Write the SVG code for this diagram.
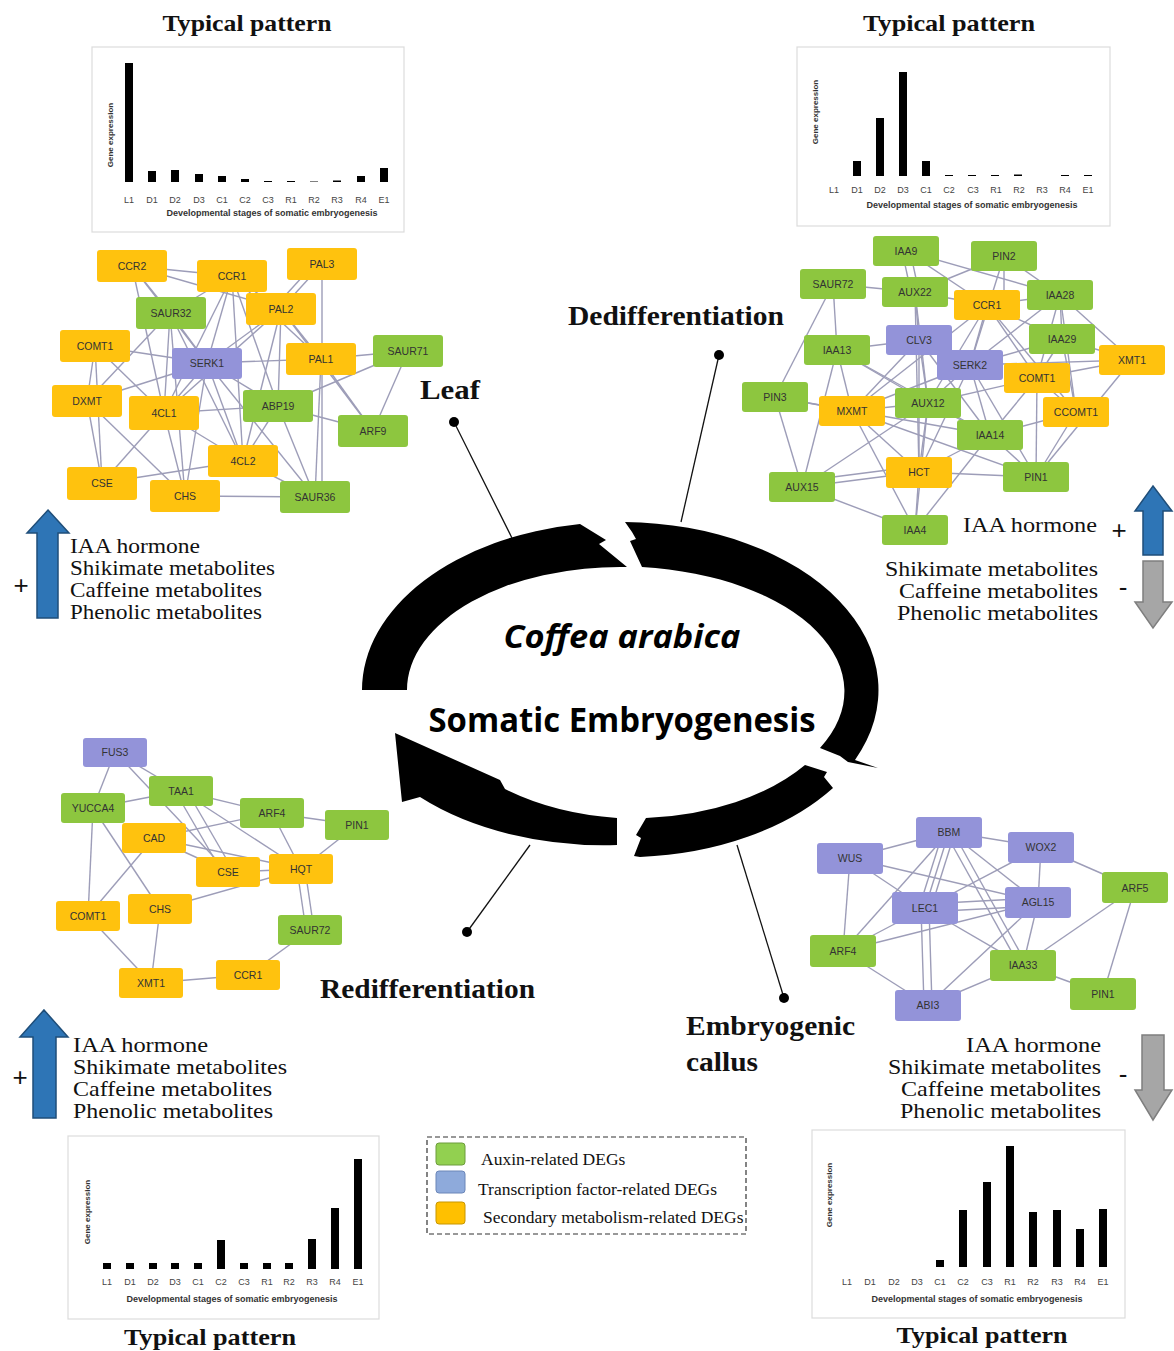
<svg xmlns="http://www.w3.org/2000/svg" width="1174" height="1351" viewBox="0 0 1174 1351">
<style>
.bg{fill:#fff}
.box{fill:#fff;stroke:#dcdcdc;stroke-width:1.2}
.bar{fill:#000}
.tick{font-family:"Liberation Sans",Arial,sans-serif;font-size:9px;fill:#444;text-anchor:middle}
.axt{font-family:"Liberation Sans",Arial,sans-serif;font-size:9px;font-weight:bold;fill:#333;text-anchor:middle}
.gen{font-family:"Liberation Sans",Arial,sans-serif;font-size:8px;font-weight:bold;fill:#333;text-anchor:middle}
.title{font-family:"Liberation Serif","Times New Roman",serif;font-size:24px;font-weight:bold;fill:#111;text-anchor:middle}
.stage{font-family:"Liberation Serif","Times New Roman",serif;font-size:27px;font-weight:bold;fill:#111}
.met{font-family:"Liberation Serif","Times New Roman",serif;font-size:21.5px;fill:#111}
.metr{font-family:"Liberation Serif","Times New Roman",serif;font-size:21.5px;fill:#111;text-anchor:end}
.sign{font-family:"Liberation Sans",Arial,sans-serif;font-size:26px;fill:#111;text-anchor:middle}
.leg{font-family:"Liberation Serif","Times New Roman",serif;font-size:17.5px;fill:#111}
.g rect{fill:#8dc63f}
.y rect{fill:#ffc20e}
.p rect{fill:#9393d9}
.n text{font-family:"Liberation Sans",Arial,sans-serif;font-size:10.5px;fill:#333;text-anchor:middle;dominant-baseline:central}
.edges line{stroke:#9d9db8;stroke-width:1.4}
.ptr{stroke:#111;stroke-width:1.3}
.up{fill:#2e75b6;stroke:#1f4e79;stroke-width:1.5}
.down{fill:#a6a6a6;stroke:#7f7f7f;stroke-width:1.5}
</style>
<rect class="bg" x="0" y="0" width="1174" height="1351"/>

<!-- Cycle -->
<g id="cycle" fill="#000">
<path d="M362,690 A258,168 0 0 1 580,524 L606,540 L599,544 L627,567 A213,123 0 0 0 407,690 Z"/>
<path d="M625,522 L632,532 L636,539 L630,541 L642,567 A225,125 0 0 1 820,748 L840,756 L848,762 L878,768 L855,760 A258,168 0 0 0 625,522 Z"/>
<path d="M805,765 L827,772 L824,777 L833,788 A258,168 0 0 1 640,857 L634,856 L641,838 L636,835 L646,818 A213,128 0 0 0 805,765 Z"/>
<path d="M617,818 L617,845 A258,162 0 0 1 420,797 L402,802 L395,733 L500,780 L505,789 A213,125 0 0 0 617,818 Z"/>
</g>
<text x="622" y="648" font-family="Open Sans,Liberation Sans,sans-serif" font-size="33" font-weight="bold" font-style="italic" text-anchor="middle" textLength="237" lengthAdjust="spacingAndGlyphs">Coffea arabica</text>
<text x="622" y="732" font-family="Open Sans,Liberation Sans,sans-serif" font-size="34" font-weight="bold" text-anchor="middle" textLength="387" lengthAdjust="spacingAndGlyphs">Somatic Embryogenesis</text>

<!-- Stage labels and pointers -->
<g id="pointers">
<line class="ptr" x1="454" y1="422" x2="512" y2="538"/><circle cx="454" cy="422" r="5"/>
<line class="ptr" x1="719" y1="355" x2="681" y2="522"/><circle cx="719" cy="355" r="5"/>
<line class="ptr" x1="467" y1="932" x2="530" y2="845"/><circle cx="467" cy="932" r="5"/>
<line class="ptr" x1="784" y1="998" x2="737" y2="845"/><circle cx="784" cy="998" r="5"/>
</g>
<text class="stage" x="420" y="399" textLength="60" lengthAdjust="spacingAndGlyphs">Leaf</text>
<text class="stage" x="568" y="325" textLength="216" lengthAdjust="spacingAndGlyphs">Dedifferentiation</text>
<text class="stage" x="320" y="998" textLength="215" lengthAdjust="spacingAndGlyphs">Redifferentiation</text>
<text class="stage" x="686" y="1035" textLength="169" lengthAdjust="spacingAndGlyphs">Embryogenic</text>
<text class="stage" x="686" y="1071" textLength="72" lengthAdjust="spacingAndGlyphs">callus</text>

<!-- Titles -->
<text class="title" x="247" y="31" textLength="169" lengthAdjust="spacingAndGlyphs">Typical pattern</text>
<text class="title" x="949" y="31" textLength="172" lengthAdjust="spacingAndGlyphs">Typical pattern</text>
<text class="title" x="210" y="1345" textLength="172" lengthAdjust="spacingAndGlyphs">Typical pattern</text>
<text class="title" x="982" y="1343" textLength="171" lengthAdjust="spacingAndGlyphs">Typical pattern</text>

<!-- Chart top-left -->
<g id="chart-tl">
<rect class="box" x="92" y="47" width="312" height="185"/>
<rect class="bar" x="125" y="63" width="8" height="119"/>
<rect class="bar" x="148" y="171" width="8" height="11"/>
<rect class="bar" x="171" y="170" width="8" height="12"/>
<rect class="bar" x="195" y="174" width="8" height="8"/>
<rect class="bar" x="218" y="176" width="8" height="6"/>
<rect class="bar" x="241" y="179" width="8" height="3"/>
<rect class="bar" x="264" y="181" width="8" height="1"/>
<rect class="bar" x="287" y="181" width="8" height="1"/>
<rect class="bar" x="310" y="181.5" width="8" height="0.5"/>
<rect class="bar" x="333" y="180.5" width="8" height="1.5"/>
<rect class="bar" x="357" y="176" width="8" height="6"/>
<rect class="bar" x="380" y="168" width="8" height="14"/>
<text class="tick" y="203"><tspan x="129">L1</tspan><tspan x="152">D1</tspan><tspan x="175">D2</tspan><tspan x="199">D3</tspan><tspan x="222">C1</tspan><tspan x="245">C2</tspan><tspan x="268">C3</tspan><tspan x="291">R1</tspan><tspan x="314">R2</tspan><tspan x="337">R3</tspan><tspan x="361">R4</tspan><tspan x="384">E1</tspan></text>
<text class="axt" x="272" y="216">Developmental stages of somatic embryogenesis</text>
<text class="gen" transform="translate(113,135) rotate(-90)">Gene expression</text>
</g>

<!-- Chart top-right -->
<g id="chart-tr">
<rect class="box" x="797" y="47" width="313" height="179"/>
<rect class="bar" x="853" y="161" width="8" height="15"/>
<rect class="bar" x="876" y="118" width="8" height="58"/>
<rect class="bar" x="899" y="72" width="8" height="104"/>
<rect class="bar" x="922" y="161" width="8" height="15"/>
<rect class="bar" x="945" y="175" width="8" height="1"/>
<rect class="bar" x="968" y="175" width="8" height="1"/>
<rect class="bar" x="991" y="175" width="8" height="1"/>
<rect class="bar" x="1014" y="174.5" width="8" height="1.5"/>
<rect class="bar" x="1061" y="175" width="8" height="1"/>
<rect class="bar" x="1084" y="175" width="8" height="1"/>
<text class="tick" y="193"><tspan x="834">L1</tspan><tspan x="857">D1</tspan><tspan x="880">D2</tspan><tspan x="903">D3</tspan><tspan x="926">C1</tspan><tspan x="949">C2</tspan><tspan x="973">C3</tspan><tspan x="996">R1</tspan><tspan x="1019">R2</tspan><tspan x="1042">R3</tspan><tspan x="1065">R4</tspan><tspan x="1088">E1</tspan></text>
<text class="axt" x="972" y="208">Developmental stages of somatic embryogenesis</text>
<text class="gen" transform="translate(818,112) rotate(-90)">Gene expression</text>
</g>

<!-- Chart bottom-left -->
<g id="chart-bl">
<rect class="box" x="68" y="1136" width="311" height="183"/>
<rect class="bar" x="103" y="1263" width="8" height="6"/>
<rect class="bar" x="126" y="1263" width="8" height="6"/>
<rect class="bar" x="149" y="1263" width="8" height="6"/>
<rect class="bar" x="171" y="1263" width="8" height="6"/>
<rect class="bar" x="194" y="1263" width="8" height="6"/>
<rect class="bar" x="217" y="1240" width="8" height="29"/>
<rect class="bar" x="240" y="1263" width="8" height="6"/>
<rect class="bar" x="263" y="1263" width="8" height="6"/>
<rect class="bar" x="285" y="1263" width="8" height="6"/>
<rect class="bar" x="308" y="1239" width="8" height="30"/>
<rect class="bar" x="331" y="1208" width="8" height="61"/>
<rect class="bar" x="354" y="1159" width="8" height="110"/>
<text class="tick" y="1285"><tspan x="107">L1</tspan><tspan x="130">D1</tspan><tspan x="153">D2</tspan><tspan x="175">D3</tspan><tspan x="198">C1</tspan><tspan x="221">C2</tspan><tspan x="244">C3</tspan><tspan x="267">R1</tspan><tspan x="289">R2</tspan><tspan x="312">R3</tspan><tspan x="335">R4</tspan><tspan x="358">E1</tspan></text>
<text class="axt" x="232" y="1302">Developmental stages of somatic embryogenesis</text>
<text class="gen" transform="translate(90,1212) rotate(-90)">Gene expression</text>
</g>

<!-- Chart bottom-right -->
<g id="chart-br">
<rect class="box" x="812" y="1130" width="313" height="188"/>
<rect class="bar" x="936" y="1260" width="8" height="7"/>
<rect class="bar" x="959" y="1210" width="8" height="57"/>
<rect class="bar" x="983" y="1182" width="8" height="85"/>
<rect class="bar" x="1006" y="1146" width="8" height="121"/>
<rect class="bar" x="1029" y="1212" width="8" height="55"/>
<rect class="bar" x="1053" y="1210" width="8" height="57"/>
<rect class="bar" x="1076" y="1229" width="8" height="38"/>
<rect class="bar" x="1099" y="1209" width="8" height="58"/>
<text class="tick" y="1285"><tspan x="847">L1</tspan><tspan x="870">D1</tspan><tspan x="894">D2</tspan><tspan x="917">D3</tspan><tspan x="940">C1</tspan><tspan x="963">C2</tspan><tspan x="987">C3</tspan><tspan x="1010">R1</tspan><tspan x="1033">R2</tspan><tspan x="1057">R3</tspan><tspan x="1080">R4</tspan><tspan x="1103">E1</tspan></text>
<text class="axt" x="977" y="1302">Developmental stages of somatic embryogenesis</text>
<text class="gen" transform="translate(832,1195) rotate(-90)">Gene expression</text>
</g>

<!-- Connectors -->
<g id="connectors" class="edges">
<!-- top-left network -->
<line x1="132" y1="266" x2="232" y2="276"/><line x1="132" y1="266" x2="281" y2="309"/><line x1="132" y1="266" x2="170" y2="313"/><line x1="132" y1="266" x2="207" y2="363"/><line x1="132" y1="266" x2="164" y2="413"/>
<line x1="232" y1="276" x2="170" y2="313"/><line x1="232" y1="276" x2="281" y2="309"/><line x1="232" y1="276" x2="164" y2="413"/><line x1="232" y1="276" x2="243" y2="461"/><line x1="232" y1="276" x2="278" y2="406"/><line x1="232" y1="276" x2="207" y2="363"/><line x1="232" y1="276" x2="321" y2="359"/>
<line x1="322" y1="264" x2="281" y2="309"/><line x1="314" y1="264" x2="273" y2="309"/><line x1="322" y1="264" x2="322" y2="497"/>
<line x1="281" y1="309" x2="207" y2="363"/><line x1="281" y1="309" x2="243" y2="461"/><line x1="281" y1="309" x2="321" y2="359"/><line x1="281" y1="309" x2="373" y2="431"/><line x1="281" y1="309" x2="164" y2="413"/><line x1="281" y1="309" x2="278" y2="406"/>
<line x1="170" y1="313" x2="87" y2="401"/><line x1="170" y1="313" x2="164" y2="413"/><line x1="170" y1="313" x2="207" y2="363"/><line x1="170" y1="313" x2="243" y2="461"/><line x1="170" y1="313" x2="185" y2="496"/>
<line x1="95" y1="346" x2="87" y2="401"/><line x1="95" y1="346" x2="164" y2="413"/><line x1="95" y1="346" x2="102" y2="483"/><line x1="95" y1="346" x2="207" y2="363"/>
<line x1="207" y1="363" x2="321" y2="359"/><line x1="207" y1="363" x2="278" y2="406"/><line x1="207" y1="363" x2="243" y2="461"/><line x1="207" y1="363" x2="87" y2="401"/><line x1="207" y1="363" x2="185" y2="496"/><line x1="207" y1="363" x2="164" y2="413"/><line x1="207" y1="363" x2="315" y2="497"/>
<line x1="321" y1="359" x2="408" y2="351"/><line x1="321" y1="359" x2="373" y2="431"/><line x1="321" y1="359" x2="315" y2="497"/>
<line x1="408" y1="351" x2="373" y2="431"/><line x1="408" y1="351" x2="278" y2="406"/>
<line x1="87" y1="401" x2="102" y2="483"/><line x1="87" y1="401" x2="185" y2="496"/>
<line x1="164" y1="413" x2="278" y2="406"/><line x1="164" y1="413" x2="243" y2="461"/><line x1="164" y1="413" x2="102" y2="483"/><line x1="164" y1="413" x2="185" y2="496"/>
<line x1="278" y1="406" x2="373" y2="431"/><line x1="278" y1="406" x2="243" y2="461"/><line x1="278" y1="406" x2="315" y2="497"/>
<line x1="243" y1="461" x2="102" y2="483"/><line x1="243" y1="461" x2="315" y2="497"/><line x1="185" y1="496" x2="315" y2="497"/>
<!-- top-right network -->
<line x1="902" y1="251" x2="911" y2="292"/><line x1="910" y1="251" x2="919" y2="292"/><line x1="906" y1="251" x2="987" y2="305"/><line x1="906" y1="251" x2="1060" y2="295"/>
<line x1="1004" y1="256" x2="915" y2="292"/><line x1="1004" y1="256" x2="1004" y2="305"/><line x1="1004" y1="256" x2="1060" y2="295"/><line x1="1004" y1="256" x2="970" y2="365"/>
<line x1="833" y1="284" x2="915" y2="292"/><line x1="833" y1="284" x2="837" y2="350"/><line x1="833" y1="284" x2="775" y2="397"/>
<line x1="915" y1="292" x2="919" y2="340"/><line x1="915" y1="292" x2="928" y2="403"/><line x1="915" y1="292" x2="919" y2="472"/><line x1="915" y1="292" x2="987" y2="305"/>
<line x1="987" y1="305" x2="1060" y2="295"/><line x1="987" y1="305" x2="970" y2="365"/><line x1="987" y1="305" x2="1037" y2="378"/><line x1="987" y1="305" x2="1062" y2="339"/><line x1="987" y1="305" x2="852" y2="411"/><line x1="987" y1="305" x2="1076" y2="412"/><line x1="987" y1="305" x2="928" y2="403"/>
<line x1="1060" y1="295" x2="1062" y2="339"/><line x1="1060" y1="295" x2="1132" y2="360"/><line x1="1060" y1="295" x2="970" y2="365"/><line x1="1060" y1="295" x2="1037" y2="378"/><line x1="1060" y1="295" x2="1076" y2="412"/>
<line x1="919" y1="340" x2="837" y2="350"/><line x1="919" y1="340" x2="970" y2="365"/><line x1="919" y1="340" x2="928" y2="403"/><line x1="919" y1="340" x2="852" y2="411"/><line x1="919" y1="340" x2="919" y2="472"/><line x1="919" y1="340" x2="990" y2="435"/>
<line x1="837" y1="350" x2="852" y2="411"/><line x1="837" y1="350" x2="928" y2="403"/><line x1="837" y1="350" x2="990" y2="435"/><line x1="837" y1="350" x2="802" y2="487"/>
<line x1="970" y1="365" x2="1062" y2="339"/><line x1="970" y1="365" x2="1132" y2="360"/><line x1="970" y1="365" x2="928" y2="403"/><line x1="970" y1="365" x2="919" y2="472"/><line x1="970" y1="365" x2="1036" y2="477"/><line x1="970" y1="365" x2="852" y2="411"/><line x1="970" y1="365" x2="990" y2="435"/>
<line x1="1062" y1="339" x2="1132" y2="360"/><line x1="1062" y1="339" x2="1037" y2="378"/><line x1="1062" y1="339" x2="1076" y2="412"/>
<line x1="1132" y1="360" x2="1037" y2="378"/><line x1="1132" y1="360" x2="1036" y2="477"/>
<line x1="1037" y1="378" x2="1076" y2="412"/><line x1="1037" y1="378" x2="1036" y2="477"/><line x1="1037" y1="378" x2="928" y2="403"/><line x1="1037" y1="378" x2="990" y2="435"/>
<line x1="775" y1="397" x2="852" y2="411"/><line x1="775" y1="397" x2="802" y2="487"/><line x1="775" y1="397" x2="990" y2="435"/>
<line x1="852" y1="411" x2="928" y2="403"/><line x1="852" y1="411" x2="919" y2="472"/><line x1="852" y1="411" x2="915" y2="530"/><line x1="852" y1="411" x2="1036" y2="477"/>
<line x1="928" y1="403" x2="919" y2="472"/><line x1="928" y1="403" x2="990" y2="435"/><line x1="928" y1="403" x2="915" y2="530"/><line x1="928" y1="403" x2="802" y2="487"/>
<line x1="1076" y1="412" x2="990" y2="435"/><line x1="1076" y1="412" x2="1036" y2="477"/>
<line x1="990" y1="435" x2="919" y2="472"/><line x1="990" y1="435" x2="1036" y2="477"/><line x1="990" y1="435" x2="915" y2="530"/>
<line x1="919" y1="472" x2="802" y2="487"/><line x1="919" y1="472" x2="915" y2="530"/><line x1="919" y1="472" x2="1036" y2="477"/>
<line x1="802" y1="487" x2="915" y2="530"/><line x1="802" y1="481" x2="919" y2="466"/>
<!-- bottom-left network -->
<line x1="115" y1="752" x2="93" y2="808"/><line x1="115" y1="752" x2="181" y2="791"/><line x1="115" y1="752" x2="228" y2="872"/>
<line x1="93" y1="808" x2="181" y2="791"/><line x1="93" y1="808" x2="88" y2="916"/><line x1="93" y1="808" x2="160" y2="909"/>
<line x1="181" y1="791" x2="272" y2="813"/><line x1="175" y1="791" x2="222" y2="872"/><line x1="187" y1="791" x2="234" y2="872"/><line x1="181" y1="791" x2="301" y2="869"/>
<line x1="272" y1="813" x2="154" y2="838"/><line x1="272" y1="813" x2="357" y2="825"/><line x1="272" y1="813" x2="301" y2="869"/>
<line x1="357" y1="825" x2="301" y2="869"/>
<line x1="154" y1="838" x2="228" y2="872"/><line x1="154" y1="838" x2="301" y2="869"/><line x1="154" y1="838" x2="88" y2="916"/>
<line x1="228" y1="872" x2="301" y2="869"/><line x1="301" y1="869" x2="160" y2="909"/><line x1="297" y1="869" x2="306" y2="930"/><line x1="305" y1="869" x2="314" y2="930"/>
<line x1="160" y1="909" x2="151" y2="983"/><line x1="88" y1="916" x2="151" y2="983"/><line x1="151" y1="983" x2="248" y2="975"/><line x1="248" y1="975" x2="310" y2="930"/>
<!-- bottom-right network -->
<line x1="949" y1="832" x2="850" y2="858"/><line x1="949" y1="832" x2="1041" y2="847"/><line x1="943" y1="832" x2="919" y2="908"/><line x1="949" y1="832" x2="925" y2="908"/><line x1="955" y1="832" x2="931" y2="908"/><line x1="949" y1="832" x2="843" y2="951"/><line x1="949" y1="832" x2="1038" y2="902"/><line x1="945" y1="832" x2="1019" y2="965"/><line x1="953" y1="832" x2="1027" y2="965"/>
<line x1="850" y1="858" x2="925" y2="908"/><line x1="850" y1="858" x2="1038" y2="902"/><line x1="850" y1="858" x2="843" y2="951"/>
<line x1="1041" y1="847" x2="925" y2="908"/><line x1="1041" y1="847" x2="1038" y2="902"/><line x1="1041" y1="847" x2="1135" y2="888"/>
<line x1="925" y1="904" x2="1038" y2="898"/><line x1="925" y1="912" x2="1038" y2="906"/><line x1="921" y1="908" x2="924" y2="1005"/><line x1="929" y1="908" x2="932" y2="1005"/><line x1="925" y1="908" x2="1023" y2="965"/><line x1="925" y1="908" x2="843" y2="951"/>
<line x1="1038" y1="902" x2="843" y2="951"/><line x1="1038" y1="902" x2="928" y2="1005"/><line x1="1038" y1="902" x2="1023" y2="965"/>
<line x1="843" y1="951" x2="928" y2="1005"/><line x1="1023" y1="965" x2="928" y2="1005"/><line x1="1023" y1="965" x2="1135" y2="888"/><line x1="1023" y1="965" x2="1103" y2="994"/><line x1="1135" y1="888" x2="1103" y2="994"/>
</g>

<!-- Top-left nodes -->
<g id="tl-CCR2" class="n y"><rect x="97" y="250" width="70" height="32" rx="3"/><text x="132" y="266">CCR2</text></g>
<g id="tl-CCR1" class="n y"><rect x="197" y="260" width="70" height="32" rx="3"/><text x="232" y="276">CCR1</text></g>
<g id="tl-PAL3" class="n y"><rect x="287" y="248" width="70" height="32" rx="3"/><text x="322" y="264">PAL3</text></g>
<g id="tl-SAUR32" class="n g"><rect x="136" y="297" width="70" height="32" rx="3"/><text x="171" y="313">SAUR32</text></g>
<g id="tl-PAL2" class="n y"><rect x="246" y="293" width="70" height="32" rx="3"/><text x="281" y="309">PAL2</text></g>
<g id="tl-COMT1" class="n y"><rect x="60" y="330" width="70" height="32" rx="3"/><text x="95" y="346">COMT1</text></g>
<g id="tl-SERK1" class="n p"><rect x="172" y="348" width="70" height="31" rx="3"/><text x="207" y="363">SERK1</text></g>
<g id="tl-PAL1" class="n y"><rect x="286" y="343" width="70" height="32" rx="3"/><text x="321" y="359">PAL1</text></g>
<g id="tl-SAUR71" class="n g"><rect x="373" y="335" width="70" height="32" rx="3"/><text x="408" y="351">SAUR71</text></g>
<g id="tl-DXMT" class="n y"><rect x="52" y="385" width="70" height="32" rx="3"/><text x="87" y="401">DXMT</text></g>
<g id="tl-4CL1" class="n y"><rect x="129" y="396" width="70" height="34" rx="3"/><text x="164" y="413">4CL1</text></g>
<g id="tl-ABP19" class="n g"><rect x="243" y="390" width="70" height="32" rx="3"/><text x="278" y="406">ABP19</text></g>
<g id="tl-ARF9" class="n g"><rect x="338" y="415" width="70" height="32" rx="3"/><text x="373" y="431">ARF9</text></g>
<g id="tl-4CL2" class="n y"><rect x="208" y="445" width="70" height="32" rx="3"/><text x="243" y="461">4CL2</text></g>
<g id="tl-CSE" class="n y"><rect x="67" y="467" width="70" height="33" rx="3"/><text x="102" y="483">CSE</text></g>
<g id="tl-CHS" class="n y"><rect x="150" y="480" width="70" height="32" rx="3"/><text x="185" y="496">CHS</text></g>
<g id="tl-SAUR36" class="n g"><rect x="280" y="481" width="70" height="32" rx="3"/><text x="315" y="497">SAUR36</text></g>

<!-- Top-right nodes -->
<g id="tr-IAA9" class="n g"><rect x="873" y="236" width="66" height="30" rx="3"/><text x="906" y="251">IAA9</text></g>
<g id="tr-PIN2" class="n g"><rect x="971" y="241" width="66" height="30" rx="3"/><text x="1004" y="256">PIN2</text></g>
<g id="tr-SAUR72" class="n g"><rect x="800" y="269" width="66" height="30" rx="3"/><text x="833" y="284">SAUR72</text></g>
<g id="tr-AUX22" class="n g"><rect x="882" y="277" width="66" height="30" rx="3"/><text x="915" y="292">AUX22</text></g>
<g id="tr-CCR1" class="n y"><rect x="954" y="290" width="66" height="30" rx="3"/><text x="987" y="305">CCR1</text></g>
<g id="tr-IAA28" class="n g"><rect x="1027" y="280" width="66" height="30" rx="3"/><text x="1060" y="295">IAA28</text></g>
<g id="tr-CLV3" class="n p"><rect x="886" y="325" width="66" height="30" rx="3"/><text x="919" y="340">CLV3</text></g>
<g id="tr-IAA13" class="n g"><rect x="804" y="335" width="66" height="30" rx="3"/><text x="837" y="350">IAA13</text></g>
<g id="tr-SERK2" class="n p"><rect x="937" y="350" width="66" height="30" rx="3"/><text x="970" y="365">SERK2</text></g>
<g id="tr-IAA29" class="n g"><rect x="1029" y="324" width="66" height="30" rx="3"/><text x="1062" y="339">IAA29</text></g>
<g id="tr-XMT1" class="n y"><rect x="1099" y="345" width="66" height="30" rx="3"/><text x="1132" y="360">XMT1</text></g>
<g id="tr-COMT1" class="n y"><rect x="1004" y="363" width="66" height="30" rx="3"/><text x="1037" y="378">COMT1</text></g>
<g id="tr-PIN3" class="n g"><rect x="742" y="382" width="66" height="30" rx="3"/><text x="775" y="397">PIN3</text></g>
<g id="tr-MXMT" class="n y"><rect x="819" y="396" width="66" height="30" rx="3"/><text x="852" y="411">MXMT</text></g>
<g id="tr-AUX12" class="n g"><rect x="895" y="388" width="66" height="30" rx="3"/><text x="928" y="403">AUX12</text></g>
<g id="tr-CCOMT1" class="n y"><rect x="1043" y="397" width="66" height="30" rx="3"/><text x="1076" y="412">CCOMT1</text></g>
<g id="tr-IAA14" class="n g"><rect x="957" y="420" width="66" height="30" rx="3"/><text x="990" y="435">IAA14</text></g>
<g id="tr-HCT" class="n y"><rect x="886" y="457" width="66" height="31" rx="3"/><text x="919" y="472">HCT</text></g>
<g id="tr-PIN1" class="n g"><rect x="1003" y="462" width="66" height="30" rx="3"/><text x="1036" y="477">PIN1</text></g>
<g id="tr-AUX15" class="n g"><rect x="769" y="472" width="66" height="30" rx="3"/><text x="802" y="487">AUX15</text></g>
<g id="tr-IAA4" class="n g"><rect x="882" y="515" width="66" height="30" rx="3"/><text x="915" y="530">IAA4</text></g>

<!-- Bottom-left nodes -->
<g id="bl-FUS3" class="n p"><rect x="83" y="738" width="64" height="29" rx="3"/><text x="115" y="752">FUS3</text></g>
<g id="bl-TAA1" class="n g"><rect x="149" y="776" width="64" height="30" rx="3"/><text x="181" y="791">TAA1</text></g>
<g id="bl-YUCCA4" class="n g"><rect x="61" y="793" width="64" height="30" rx="3"/><text x="93" y="808">YUCCA4</text></g>
<g id="bl-ARF4" class="n g"><rect x="240" y="798" width="64" height="30" rx="3"/><text x="272" y="813">ARF4</text></g>
<g id="bl-PIN1" class="n g"><rect x="325" y="810" width="64" height="30" rx="3"/><text x="357" y="825">PIN1</text></g>
<g id="bl-CAD" class="n y"><rect x="122" y="823" width="64" height="30" rx="3"/><text x="154" y="838">CAD</text></g>
<g id="bl-CSE" class="n y"><rect x="196" y="857" width="64" height="30" rx="3"/><text x="228" y="872">CSE</text></g>
<g id="bl-HQT" class="n y"><rect x="269" y="854" width="64" height="30" rx="3"/><text x="301" y="869">HQT</text></g>
<g id="bl-COMT1" class="n y"><rect x="56" y="901" width="64" height="30" rx="3"/><text x="88" y="916">COMT1</text></g>
<g id="bl-CHS" class="n y"><rect x="128" y="894" width="64" height="30" rx="3"/><text x="160" y="909">CHS</text></g>
<g id="bl-SAUR72" class="n g"><rect x="278" y="915" width="64" height="30" rx="3"/><text x="310" y="930">SAUR72</text></g>
<g id="bl-XMT1" class="n y"><rect x="119" y="968" width="64" height="30" rx="3"/><text x="151" y="983">XMT1</text></g>
<g id="bl-CCR1" class="n y"><rect x="216" y="960" width="64" height="30" rx="3"/><text x="248" y="975">CCR1</text></g>

<!-- Bottom-right nodes -->
<g id="br-BBM" class="n p"><rect x="916" y="817" width="66" height="31" rx="3"/><text x="949" y="832">BBM</text></g>
<g id="br-WOX2" class="n p"><rect x="1008" y="832" width="66" height="31" rx="3"/><text x="1041" y="847">WOX2</text></g>
<g id="br-WUS" class="n p"><rect x="817" y="843" width="66" height="31" rx="3"/><text x="850" y="858">WUS</text></g>
<g id="br-ARF5" class="n g"><rect x="1102" y="872" width="66" height="31" rx="3"/><text x="1135" y="888">ARF5</text></g>
<g id="br-LEC1" class="n p"><rect x="892" y="892" width="66" height="32" rx="3"/><text x="925" y="908">LEC1</text></g>
<g id="br-AGL15" class="n p"><rect x="1005" y="887" width="66" height="31" rx="3"/><text x="1038" y="902">AGL15</text></g>
<g id="br-ARF4" class="n g"><rect x="810" y="935" width="66" height="32" rx="3"/><text x="843" y="951">ARF4</text></g>
<g id="br-IAA33" class="n g"><rect x="990" y="950" width="66" height="31" rx="3"/><text x="1023" y="965">IAA33</text></g>
<g id="br-PIN1" class="n g"><rect x="1070" y="978" width="66" height="32" rx="3"/><text x="1103" y="994">PIN1</text></g>
<g id="br-ABI3" class="n p"><rect x="895" y="990" width="66" height="31" rx="3"/><text x="928" y="1005">ABI3</text></g>

<!-- Regulation arrows and texts -->
<g id="reg-tl">
<polygon class="up" points="48,510 69,533 58,533 58,618 37,618 37,533 27,533"/>
<text class="sign" x="21" y="594">+</text>
<text class="met" x="70" y="553" textLength="130" lengthAdjust="spacingAndGlyphs">IAA hormone</text>
<text class="met" x="70" y="575" textLength="205" lengthAdjust="spacingAndGlyphs">Shikimate metabolites</text>
<text class="met" x="70" y="597" textLength="192" lengthAdjust="spacingAndGlyphs">Caffeine metabolites</text>
<text class="met" x="70" y="619" textLength="192" lengthAdjust="spacingAndGlyphs">Phenolic metabolites</text>
</g>
<g id="reg-tr">
<polygon class="up" points="1153,486 1172,511 1163,511 1163,555 1143,555 1143,511 1135,511"/>
<polygon class="down" points="1143,561 1163,561 1163,602 1172,602 1153,628 1135,602 1143,602"/>
<text class="sign" x="1119" y="539">+</text>
<text class="sign" x="1123" y="596">-</text>
<text class="metr" x="1097" y="532" textLength="134" lengthAdjust="spacingAndGlyphs">IAA hormone</text>
<text class="metr" x="1098" y="576" textLength="213" lengthAdjust="spacingAndGlyphs">Shikimate metabolites</text>
<text class="metr" x="1098" y="598" textLength="199" lengthAdjust="spacingAndGlyphs">Caffeine metabolites</text>
<text class="metr" x="1098" y="620" textLength="201" lengthAdjust="spacingAndGlyphs">Phenolic metabolites</text>
</g>
<g id="reg-bl">
<polygon class="up" points="44,1010 68,1037 56,1037 56,1118 33,1118 33,1037 20,1037"/>
<text class="sign" x="20" y="1086">+</text>
<text class="met" x="73" y="1052" textLength="135" lengthAdjust="spacingAndGlyphs">IAA hormone</text>
<text class="met" x="73" y="1074" textLength="214" lengthAdjust="spacingAndGlyphs">Shikimate metabolites</text>
<text class="met" x="73" y="1096" textLength="199" lengthAdjust="spacingAndGlyphs">Caffeine metabolites</text>
<text class="met" x="73" y="1118" textLength="200" lengthAdjust="spacingAndGlyphs">Phenolic metabolites</text>
</g>
<g id="reg-br">
<polygon class="down" points="1142,1035 1164,1035 1164,1090 1172,1090 1153,1120 1135,1090 1142,1090"/>
<text class="sign" x="1123" y="1083">-</text>
<text class="metr" x="1101" y="1052" textLength="135" lengthAdjust="spacingAndGlyphs">IAA hormone</text>
<text class="metr" x="1101" y="1074" textLength="213" lengthAdjust="spacingAndGlyphs">Shikimate metabolites</text>
<text class="metr" x="1101" y="1096" textLength="200" lengthAdjust="spacingAndGlyphs">Caffeine metabolites</text>
<text class="metr" x="1101" y="1118" textLength="201" lengthAdjust="spacingAndGlyphs">Phenolic metabolites</text>
</g>

<!-- Legend -->
<g id="legend">
<rect x="427" y="1137" width="319" height="97" fill="none" stroke="#333" stroke-width="1.2" stroke-dasharray="5,3"/>
<rect x="436" y="1143" width="29" height="22" rx="3" fill="#92d050" stroke="#6d9c3c"/>
<rect x="436" y="1171" width="29" height="22" rx="3" fill="#8eaadb" stroke="#6b86b8"/>
<rect x="436" y="1202" width="29" height="22" rx="3" fill="#ffc000" stroke="#c79600"/>
<text class="leg" x="481" y="1165">Auxin-related DEGs</text>
<text class="leg" x="478" y="1195">Transcription factor-related DEGs</text>
<text class="leg" x="483" y="1223">Secondary metabolism-related DEGs</text>
</g>
</svg>
